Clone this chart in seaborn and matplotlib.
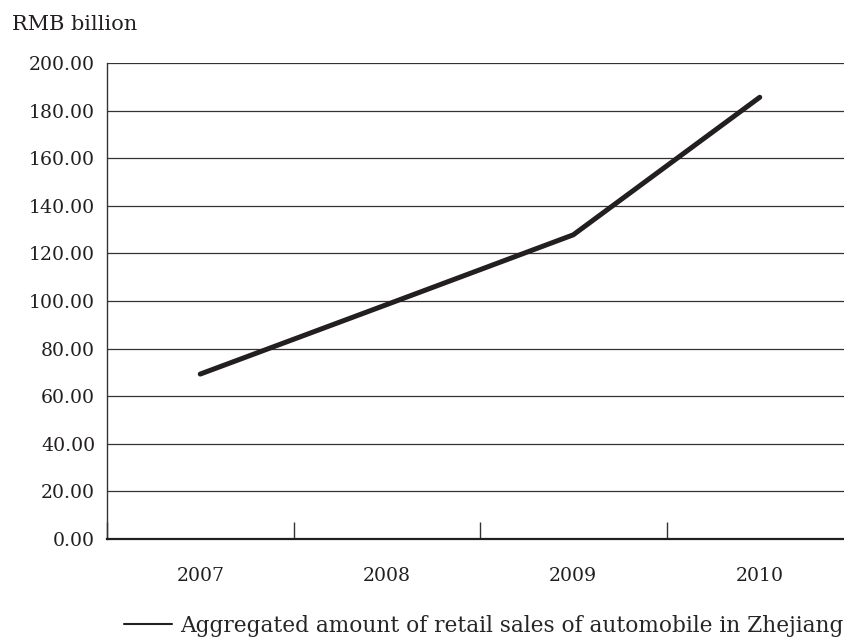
import pandas as pd
import matplotlib.pyplot as plt
import seaborn as sns
from matplotlib.ticker import FormatStrFormatter, FixedLocator

# Dados do gráfico
anos = ['2007', '2008', '2009', '2010']
vendas = [69.3, 98.5, 127.8, 185.6]
serie = 'Aggregated amount of retail sales of automobile in Zhejiang'

df = pd.DataFrame({'Ano': anos, 'Vendas': vendas})

sns.set_style('white')
plt.rcParams['font.family'] = ['DejaVu Serif']

fig = plt.figure(figsize=(8.45, 6.38), dpi=100)
# eixo se estende além da borda direita, como no original
ax = fig.add_axes([107 / 845, 99 / 638, 746 / 845, 476 / 638])

sns.lineplot(data=df, x='Ano', y='Vendas', ax=ax, color='#231f20',
             linewidth=3.6, sort=False, label=serie)

ax.set_xlim(-0.5, 3.5)
ax.set_ylim(0, 200)
ax.set_yticks(range(0, 201, 20))
ax.yaxis.set_major_formatter(FormatStrFormatter('%.2f'))
ax.grid(axis='y', color='#333333', linewidth=0.9)
ax.set_axisbelow(True)

# marcas entre as categorias
ax.xaxis.set_minor_locator(FixedLocator([-0.5, 0.5, 1.5, 2.5, 3.5]))
ax.tick_params(axis='x', which='both', bottom=True)
ax.tick_params(axis='x', which='major', length=0, labelsize=13.6, pad=20, colors='#231f20')
ax.tick_params(axis='x', which='minor', length=12, width=1, direction='in', color='#333333')
ax.tick_params(axis='y', length=0, labelsize=13.6, pad=8.5, colors='#231f20')

for lado in ['top', 'right']:
    ax.spines[lado].set_visible(False)
ax.spines['left'].set_color('#333333')
ax.spines['left'].set_linewidth(1)
ax.spines['bottom'].set_color('#231f20')
ax.spines['bottom'].set_linewidth(1.6)

ax.set_xlabel('')
ax.set_ylabel('')
fig.text(12 / 845, 1 - 25 / 638, 'RMB billion', fontsize=15, va='center', ha='left', color='#231f20')

ax.get_legend().remove()
h, l = ax.get_legend_handles_labels()
fig.legend(h, l, loc='center left', bbox_to_anchor=(124 / 845, 12 / 638), frameon=False,
           fontsize=15.6, handlelength=2.2, handletextpad=0.4, borderaxespad=0, borderpad=0)
for linha in fig.legends[0].get_lines():
    linha.set_linewidth(1.5)

plt.savefig('out.png', dpi=100)
